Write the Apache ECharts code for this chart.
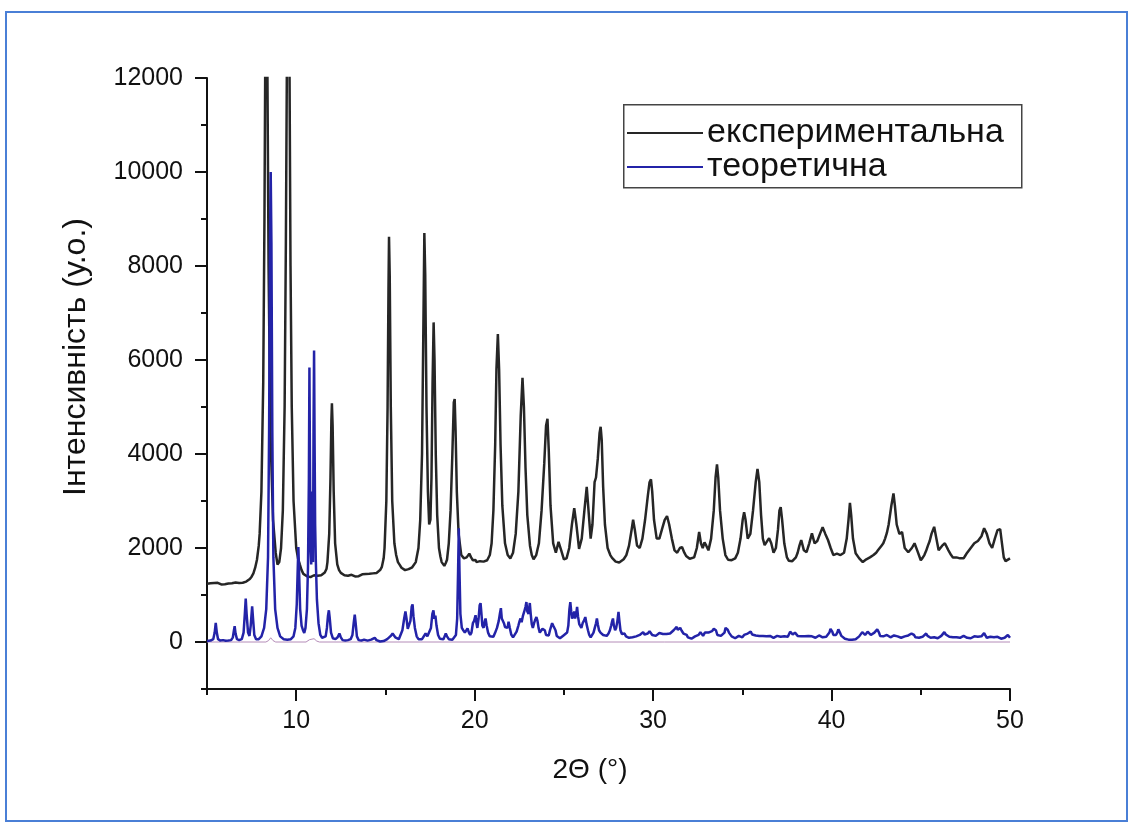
<!DOCTYPE html>
<html>
<head>
<meta charset="utf-8">
<script src="https://cdn.jsdelivr.net/npm/echarts@6/dist/echarts.min.js"></script>
<style>
  html, body { margin: 0; padding: 0; background: #fff; }
  #chart { position: absolute; left: 0; top: 0; width: 1131px; height: 824px; }
  #frame { position: absolute; left: 5px; top: 11px; width: 1123px; height: 811px;
           border: 2px solid #4a7fd6; box-sizing: border-box; pointer-events: none; }
</style>
</head>
<body>
<div id="chart"></div>
<div id="frame"></div>
<script>
// Powder diffraction patterns: 2Θ (degrees) vs intensity (arb. units)
const seriesNames = ['експериментальна', 'теоретична'];

const experimental = [
  [5.0,1240],[5.1,1275],[5.2,1250],[5.3,1230],[5.4,1255],[5.5,1235],[5.6,1260],[5.7,1240],[5.8,1225],[5.9,1255],
  [6.0,1230],[6.1,1260],[6.2,1245],[6.3,1225],[6.4,1250],[6.5,1235],[6.6,1265],[6.7,1240],[6.8,1255],[6.9,1235],
  [7.0,1260],[7.1,1250],[7.2,1285],[7.3,1300],[7.4,1340],[7.5,1390],[7.6,1460],[7.7,1580],[7.8,1750],[7.9,2050],
  [7.95,2300],[8.05,3200],[8.15,5500],[8.22,9000],[8.27,12800],
  [8.32,14500],[8.38,12500],[8.45,8000],[8.55,4500],[8.7,2600],[8.85,1900],[8.95,1650],[9.05,1700],[9.15,2000],[9.25,2800],
  [9.35,5000],[9.42,8500],[9.48,12500],[9.55,14500],[9.62,12500],[9.68,8000],[9.75,5000],[9.85,3000],[10.0,2000],[10.1,1780],
  [10.2,1650],[10.3,1530],[10.4,1450],[10.5,1430],[10.6,1400],[10.7,1420],[10.8,1380],[10.9,1400],[11.0,1420],[11.1,1395],
  [11.2,1410],[11.3,1440],[11.4,1420],[11.5,1450],[11.6,1480],[11.7,1560],[11.75,1700],[11.85,2300],[11.92,3500],
  [11.97,4700],[12.0,5080],[12.04,4600],[12.1,3200],[12.18,2100],[12.3,1650],[12.4,1530],[12.5,1470],[12.6,1440],[12.7,1420],
  [12.8,1440],[12.9,1410],[13.0,1400],[13.1,1430],[13.2,1410],[13.3,1395],[13.4,1425],[13.5,1400],[13.6,1415],[13.7,1440],
  [13.8,1420],[13.9,1445],[14.0,1420],[14.1,1450],[14.2,1435],[14.3,1460],[14.4,1445],[14.5,1470],[14.6,1490],[14.7,1530],
  [14.8,1600],[14.9,1780],[14.95,2000],
  [15.05,3000],[15.12,5000],[15.17,7500],[15.2,8620],[15.24,7800],[15.3,5000],[15.38,3000],[15.5,2100],[15.6,1850],[15.7,1700],
  [15.8,1640],[15.9,1580],[16.0,1560],[16.1,1530],[16.2,1560],[16.3,1550],[16.4,1570],[16.5,1590],[16.6,1630],[16.7,1700],
  [16.85,2000],[16.95,2600],[17.05,4000],[17.12,6500],[17.18,8700],[17.23,7800],
  [17.3,5000],[17.38,3200],[17.45,2500],[17.52,2600],[17.58,3500],[17.64,5500],[17.7,6800],[17.75,6000],[17.82,4000],[17.9,2700],
  [18.0,2000],[18.08,1820],[18.15,1700],[18.22,1660],[18.3,1620],[18.38,1680],[18.45,1750],[18.55,2100],[18.65,2800],[18.75,4000],
  [18.83,5100],[18.88,5170],[18.93,4500],
  [19.0,3200],[19.1,2300],[19.25,1850],[19.4,1780],[19.55,1800],[19.7,1880],[19.8,1800],[19.9,1740],[19.95,1720],[20.05,1745],
  [20.1,1700],[20.2,1735],[20.3,1720],[20.4,1690],[20.5,1710],[20.6,1690],[20.7,1740],[20.85,1850],[20.95,2100],[21.05,2800],
  [21.15,4200],[21.22,5800],[21.3,6550],[21.37,5800],[21.45,4200],
  [21.55,2900],[21.7,2100],[21.85,1850],[22.0,1780],[22.15,1900],[22.3,2300],[22.45,3200],[22.58,4800],[22.68,5620],[22.76,5000],
  [22.85,3700],[22.95,2700],[23.1,2050],[23.2,1850],[23.3,1760],[23.45,1850],[23.6,2100],[23.75,2800],[23.9,3800],[24.0,4600],
  [24.08,4750],
  [24.15,4100],[24.25,2900],[24.4,2100],[24.55,1900],[24.7,2130],[24.85,1950],[25.0,1760],[25.15,1780],[25.3,2000],[25.45,2500],
  [25.58,2850],[25.7,2500],[25.85,1980],[26.0,2200],[26.15,2800],[26.28,3300],[26.42,2600],[26.5,2200],[26.6,2500],[26.72,3400],
  [26.8,3500],[26.9,3900],[27.0,4450],[27.06,4580],[27.12,4300],[27.2,3300],[27.3,2500],[27.45,2000],[27.6,1850],[27.7,1790],
  [27.8,1750],[27.9,1710],[28.0,1720],[28.1,1690],[28.2,1700],[28.35,1760],[28.5,1850],[28.65,2050],[28.8,2400],[28.88,2600],
  [28.97,2400],[29.1,2050],[29.25,2000],
  [29.4,2200],[29.55,2600],[29.7,3100],[29.8,3400],[29.88,3460],[29.95,3200],[30.05,2600],[30.2,2200],[30.35,2200],[30.5,2400],
  [30.65,2600],[30.78,2680],[30.9,2500],[31.05,2200],[31.2,1950],[31.35,1900],[31.5,2000],[31.62,2020],[31.75,1900],[31.85,1830],
  [31.95,1800],[32.05,1770],[32.15,1750],[32.3,1800],[32.45,2000],[32.58,2340],[32.68,2100],[32.78,2000],[32.88,2120],[32.98,2050],
  [33.1,1950],[33.25,2200],
  [33.4,2800],[33.5,3500],[33.58,3780],[33.65,3500],[33.75,2800],[33.9,2200],[34.05,1850],[34.2,1750],[34.3,1720],[34.4,1740],
  [34.5,1710],[34.6,1780],[34.75,1900],[34.9,2200],[35.02,2600],[35.1,2760],[35.18,2600],[35.3,2200],[35.45,2300],[35.6,2800],
  [35.75,3400],[35.85,3680],[35.95,3400],[36.05,2700],[36.15,2200],[36.25,2060],[36.4,2150],[36.5,2210],[36.62,2100],[36.75,1900],
  [36.88,2000],[37.0,2400],
  [37.08,2800],[37.15,2870],[37.23,2600],[37.35,2100],[37.5,1800],[37.6,1730],[37.7,1700],[37.8,1720],[37.9,1750],[38.0,1800],
  [38.1,1900],[38.2,2050],[38.3,2170],[38.45,1950],
  [38.6,1910],[38.75,2100],[38.9,2310],[39.05,2100],[39.2,2150],[39.35,2300],[39.5,2440],[39.65,2300],[39.8,2170],[39.95,2000],
  [40.1,1850],[40.2,1870],[40.3,1880],[40.4,1840],[40.5,1850],[40.6,1870],[40.7,1900],[40.85,2200],[40.95,2600],[41.03,2960],
  [41.1,2700],[41.2,2200],[41.35,1890],
  [41.55,1780],[41.65,1740],[41.75,1700],[41.85,1720],[41.95,1760],[42.05,1740],[42.15,1800],[42.25,1790],[42.35,1850],[42.5,1900],
  [42.6,1950],[42.7,1990],[42.8,2050],[42.9,2100],[43.0,2200],[43.1,2320],[43.2,2500],[43.35,2900],
  [43.47,3160],[43.55,2900],[43.65,2500],[43.8,2300],[43.95,2340],[44.1,2000],[44.3,1910],[44.5,2000],[44.65,2100],[44.8,1950],
  [45.0,1740],[45.1,1790],[45.2,1850],[45.3,1940],[45.4,2050],[45.5,2150],[45.6,2300],[45.75,2450],[45.85,2250],[46.0,1950],
  [46.1,1990],[46.2,2050],[46.35,2100],[46.55,1950],[46.7,1850],
  [46.8,1800],[46.9,1820],[47.0,1800],[47.1,1770],[47.2,1780],[47.3,1800],[47.4,1780],[47.5,1840],[47.6,1900],[47.7,1930],
  [47.8,2000],[47.9,2030],[48.0,2100],[48.1,2090],[48.2,2150],[48.3,2180],[48.4,2250],[48.55,2420],
  [48.7,2300],[48.85,2100],[49.0,2000],[49.15,2200],[49.3,2380],[49.45,2400],[49.55,2100],[49.65,1800],[49.75,1720],[49.85,1760],
  [50.0,1780]
];

const theoretical = [
  [5.0,20],[5.2,30],[5.35,60],[5.43,200],[5.49,405],[5.55,200],[5.62,60],[5.75,30],[5.9,40],[6.05,25],
  [6.2,30],[6.35,40],[6.45,100],[6.51,250],[6.55,335],[6.6,180],[6.68,60],[6.8,40],[6.95,60],[7.05,200],
  [7.12,600],[7.17,925],[7.22,600],[7.3,200],[7.38,130],[7.45,350],[7.53,760],[7.58,500],[7.65,150],[7.75,60],
  [7.9,60],[8.05,120],[8.2,300],[8.32,700],[8.42,1800],[8.48,4500],[8.53,8500],[8.57,10000],[8.61,8500],[8.66,4500],
  [8.72,1800],[8.82,700],[8.95,300],[9.1,120],[9.3,60],[9.5,50],[9.7,60],[9.85,120],[9.95,300],[10.03,800],
  [10.08,1500],[10.12,2020],[10.16,1500],[10.22,700],[10.3,350],[10.38,250],[10.45,190],[10.52,300],[10.6,700],[10.66,1600],
  [10.71,3500],[10.74,5840],[10.77,3800],[10.8,2000],[10.84,1650],[10.88,3200],[10.91,2200],[10.94,1700],[10.97,4500],[11.0,6200],
  [11.03,4200],[11.06,2500],[11.1,1700],[11.16,900],[11.25,400],[11.35,150],[11.45,90],[11.55,80],[11.65,120],[11.72,300],
  [11.78,560],[11.83,675],[11.88,500],[11.95,200],[12.05,80],[12.2,60],[12.32,100],[12.42,180],[12.5,100],[12.6,40],
  [12.75,30],[12.9,40],[13.05,60],[13.15,150],[13.22,400],[13.28,583],[13.33,400],[13.4,120],[13.5,40],[13.65,30],
  [13.8,50],[13.9,40],[14.0,30],[14.1,70],[14.2,50],[14.3,60],[14.4,90],[14.5,40],[14.6,20],[14.7,10],
  [14.8,30],[14.9,20],[15.0,40],[15.1,60],[15.2,80],[15.3,130],[15.4,180],[15.48,150],[15.55,100],[15.65,60],
  [15.75,60],[15.85,100],[15.95,250],[16.05,500],[16.12,650],[16.18,500],[16.25,280],[16.32,260],[16.4,450],[16.47,750],
  [16.52,800],[16.57,550],[16.65,300],[16.75,120],[16.85,60],[16.95,50],[17.05,60],[17.15,100],[17.25,180],[17.35,120],
  [17.45,100],[17.55,300],[17.63,600],[17.69,675],[17.74,500],[17.8,560],[17.86,350],[17.95,150],[18.05,70],[18.15,50],
  [18.25,60],[18.32,120],[18.38,180],[18.45,120],[18.55,60],[18.65,60],[18.75,50],[18.85,70],[18.95,150],[19.02,500],
  [19.07,1500],[19.11,2420],[19.15,1500],[19.2,600],[19.28,300],[19.36,250],[19.45,200],[19.53,230],[19.6,290],[19.68,200],
  [19.75,150],[19.82,200],[19.9,400],[19.97,450],[20.05,570],[20.1,400],[20.15,300],[20.22,500],[20.28,780],[20.33,825],
  [20.38,600],[20.43,350],[20.5,300],[20.57,450],[20.61,500],[20.67,350],[20.75,200],[20.85,120],[20.95,100],[21.05,110],
  [21.15,200],[21.25,300],[21.35,450],[21.42,620],[21.47,720],[21.52,500],[21.58,480],[21.64,400],[21.7,320],[21.77,350],
  [21.84,300],[21.9,430],[21.97,300],[22.05,160],[22.15,100],[22.25,130],[22.35,220],[22.45,350],[22.52,450],[22.57,500],
  [22.63,420],[22.7,550],[22.78,650],[22.85,750],[22.9,850],[22.95,650],[23.02,600],[23.09,830],[23.14,600],[23.2,380],
  [23.26,300],[23.33,400],[23.4,480],[23.46,530],[23.52,450],[23.58,300],[23.65,200],[23.72,230],[23.8,280],[23.87,320],
  [23.93,250],[24.0,150],[24.08,120],[24.15,140],[24.22,250],[24.3,350],[24.34,400],[24.4,350],[24.47,380],[24.53,250],
  [24.6,130],[24.68,90],[24.78,80],[24.88,100],[24.98,140],[25.08,180],[25.18,200],[25.25,350],[25.31,700],[25.36,850],
  [25.41,650],[25.46,500],[25.52,550],[25.58,650],[25.63,500],[25.69,600],[25.74,745],[25.79,550],[25.86,380],[25.92,350],
  [25.98,300],[26.05,400],[26.12,450],[26.2,530],[26.27,380],[26.35,250],[26.42,150],[26.5,100],[26.58,120],[26.66,200],
  [26.73,300],[26.8,400],[26.85,500],[26.9,380],[26.97,250],[27.05,200],[27.12,180],[27.2,150],[27.3,120],[27.4,130],
  [27.5,180],[27.58,250],[27.65,350],[27.71,450],[27.75,500],[27.8,350],[27.87,250],[27.93,300],[28.0,450],[28.06,640],
  [28.11,450],[28.17,250],[28.25,170],[28.32,150],[28.4,180],[28.48,120],[28.56,100],[28.65,90],[28.75,110],[28.85,100],
  [28.95,140],[29.05,120],[29.15,160],[29.25,150],[29.35,180],[29.44,210],[29.52,160],[29.6,140],[29.7,180],[29.8,230],
  [29.87,190],[29.95,150],[30.05,170],[30.15,130],[30.25,140],[30.35,190],[30.45,150],[30.55,170],[30.65,210],[30.75,170],
  [30.85,140],[30.95,180],[31.05,200],[31.15,250],[31.25,290],[31.32,320],[31.38,260],[31.45,280],[31.52,300],[31.6,240],
  [31.7,180],[31.8,200],[31.88,150],[31.95,100],[32.05,80],[32.15,70],[32.25,90],[32.35,120],[32.45,110],[32.55,150],
  [32.65,210],[32.72,170],[32.8,130],[32.9,200],[33.0,240],[33.1,200],[33.2,180],[33.3,230],[33.4,280],[33.46,320],
  [33.52,250],[33.6,150],[33.7,120],[33.8,130],[33.9,150],[34.0,200],[34.06,300],[34.12,335],[34.18,260],[34.25,200],
  [34.32,170],[34.4,120],[34.5,90],[34.6,80],[34.7,100],[34.8,130],[34.9,110],[35.0,100],[35.1,150],[35.2,140],
  [35.3,180],[35.4,200],[35.47,220],[35.55,160],[35.65,120],[35.75,140],[35.85,110],[35.95,130],[36.05,160],[36.15,130],
  [36.25,100],[36.35,120],[36.45,160],[36.55,130],[36.65,110],[36.75,90],[36.85,110],[36.95,130],[37.05,100],[37.15,110],
  [37.25,130],[37.35,120],[37.45,100],[37.55,110],[37.62,150],[37.68,220],[37.75,250],[37.82,160],[37.88,120],[37.95,200],
  [38.02,180],[38.1,130],[38.2,150],[38.3,120],[38.4,100],[38.5,120],[38.6,110],[38.7,130],[38.8,100],[38.9,120],
  [39.0,110],[39.1,90],[39.2,120],[39.3,140],[39.4,110],[39.5,100],[39.6,130],[39.7,110],[39.8,150],[39.88,200],
  [39.94,280],[39.98,305],[40.04,220],[40.1,150],[40.18,120],[40.25,150],[40.32,200],[40.38,270],[40.41,285],[40.47,200],
  [40.55,130],[40.65,90],[40.75,70],[40.85,60],[40.95,50],[41.05,60],[41.15,50],[41.25,40],[41.35,60],[41.45,80],
  [41.55,120],[41.65,150],[41.72,210],[41.8,180],[41.88,150],[41.95,170],[42.02,220],[42.1,200],[42.2,150],[42.3,180],
  [42.4,200],[42.5,230],[42.56,270],[42.59,285],[42.66,200],[42.72,130],[42.8,100],[42.9,120],[43.0,110],[43.1,150],
  [43.2,130],[43.3,100],[43.4,110],[43.5,140],[43.6,100],[43.7,120],[43.8,110],[43.9,90],[44.0,100],[44.1,120],
  [44.2,110],[44.3,140],[44.4,120],[44.48,180],[44.55,210],[44.62,150],[44.7,100],[44.8,110],[44.9,90],[45.0,80],
  [45.1,110],[45.2,150],[45.3,180],[45.38,130],[45.45,100],[45.55,90],[45.65,80],[45.75,100],[45.85,110],[45.95,80],
  [46.05,100],[46.15,130],[46.22,160],[46.32,210],[46.4,160],[46.5,120],[46.6,110],[46.7,90],[46.8,100],[46.9,120],
  [47.0,100],[47.1,110],[47.2,90],[47.3,110],[47.4,130],[47.5,100],[47.6,90],[47.7,110],[47.8,80],[47.9,100],
  [48.0,120],[48.1,90],[48.2,110],[48.3,100],[48.4,120],[48.48,150],[48.55,190],[48.62,140],[48.7,90],[48.8,80],
  [48.9,110],[49.0,90],[49.1,100],[49.2,80],[49.3,110],[49.4,90],[49.5,70],[49.6,100],[49.7,90],[49.8,120],
  [49.88,150],[49.95,110],[50.0,90]
];

// faint difference trace along the zero line
const difference = [
  [5.0,0],[8.3,0],[8.45,30],[8.57,90],[8.7,30],[8.85,0],[10.55,0],[10.75,50],[10.85,20],[11.0,70],[11.15,20],[11.3,0],[50.0,0]
];

const xMajorTicks = [10, 20, 30, 40, 50];
const xMinorTicks = [5, 15, 25, 35, 45];
const yMajorTicks = [0, 2000, 4000, 6000, 8000, 10000, 12000];
const yMinorTicks = [-1000, 1000, 3000, 5000, 7000, 9000, 11000];

const FONT = '"Liberation Sans", Arial, Helvetica, sans-serif';
const AXIS_COLOR = '#111';
const plainNumber = v => String(v);

const chart = echarts.init(document.getElementById('chart'), null, { renderer: 'canvas' });

const option = {
  backgroundColor: '#fff',
  animation: false,
  grid: { left: 207, top: 78, width: 803, height: 611, containLabel: false },
  xAxis: [
    {
      type: 'value', min: 5, max: 50, position: 'bottom',
      axisLine: { show: true, onZero: false, lineStyle: { color: AXIS_COLOR, width: 2 } },
      axisTick: { show: true, customValues: xMajorTicks, length: 12, lineStyle: { color: AXIS_COLOR, width: 2 } },
      axisLabel: { show: true, customValues: xMajorTicks, formatter: plainNumber, margin: 20,
                   fontSize: 25, color: '#111', fontFamily: FONT },
      splitLine: { show: false }
    },
    {
      type: 'value', min: 5, max: 50, position: 'bottom', offset: 0,
      axisLine: { show: false, onZero: false },
      axisTick: { show: true, customValues: xMinorTicks, length: 6, lineStyle: { color: AXIS_COLOR, width: 2 } },
      axisLabel: { show: false },
      splitLine: { show: false }
    }
  ],
  yAxis: [
    {
      type: 'value', min: -1000, max: 12000, position: 'left',
      axisLine: { show: true, onZero: false, lineStyle: { color: AXIS_COLOR, width: 2 } },
      axisTick: { show: true, customValues: yMajorTicks, length: 12, lineStyle: { color: AXIS_COLOR, width: 2 } },
      axisLabel: { show: true, customValues: yMajorTicks, formatter: plainNumber, margin: 24,
                   fontSize: 25, color: '#111', fontFamily: FONT },
      splitLine: { show: false }
    },
    {
      type: 'value', min: -1000, max: 12000, position: 'left', offset: 0,
      axisLine: { show: false, onZero: false },
      axisTick: { show: true, customValues: yMinorTicks, length: 6, lineStyle: { color: AXIS_COLOR, width: 2 } },
      axisLabel: { show: false },
      splitLine: { show: false }
    }
  ],
  legend: {
    orient: 'vertical',
    left: 627, top: 116,
    data: seriesNames,
    icon: 'rect',
    itemWidth: 76, itemHeight: 2, itemGap: 0,
    padding: 0,
    textStyle: { fontSize: 34, color: '#111', fontFamily: FONT, lineHeight: 33, padding: [0, 0, 0, -1] }
  },
  graphic: [
    {
      type: 'rect', left: 623, top: 104, z: 0,
      shape: { width: 398, height: 83 },
      style: { fill: '#fff', stroke: '#444', lineWidth: 1.5 }
    },
    {
      type: 'text', x: 76, y: 357, rotation: Math.PI / 2,
      style: { text: 'Інтенсивність (у.о.)', fontSize: 32, fontFamily: FONT, fill: '#111',
               align: 'center', verticalAlign: 'middle' }
    },
    {
      type: 'text', x: 590, y: 770,
      style: { text: '2Θ (°)', fontSize: 28, fontFamily: FONT, fill: '#111',
               align: 'center', verticalAlign: 'middle' }
    }
  ],
  series: [
    {
      name: 'difference', type: 'line', data: difference, silent: true,
      symbol: 'none', lineStyle: { color: '#b48cb8', width: 1 }, z: 1
    },
    {
      name: seriesNames[0], type: 'line', data: experimental,
      symbol: 'none', clip: true, color: '#262626',
      lineStyle: { color: '#262626', width: 2.5 }, z: 2
    },
    {
      name: seriesNames[1], type: 'line', data: theoretical,
      symbol: 'none', clip: true, color: '#2323a8',
      lineStyle: { color: '#2323a8', width: 2.5 }, z: 3
    }
  ]
};

chart.setOption(option);
</script>
</body>
</html>
